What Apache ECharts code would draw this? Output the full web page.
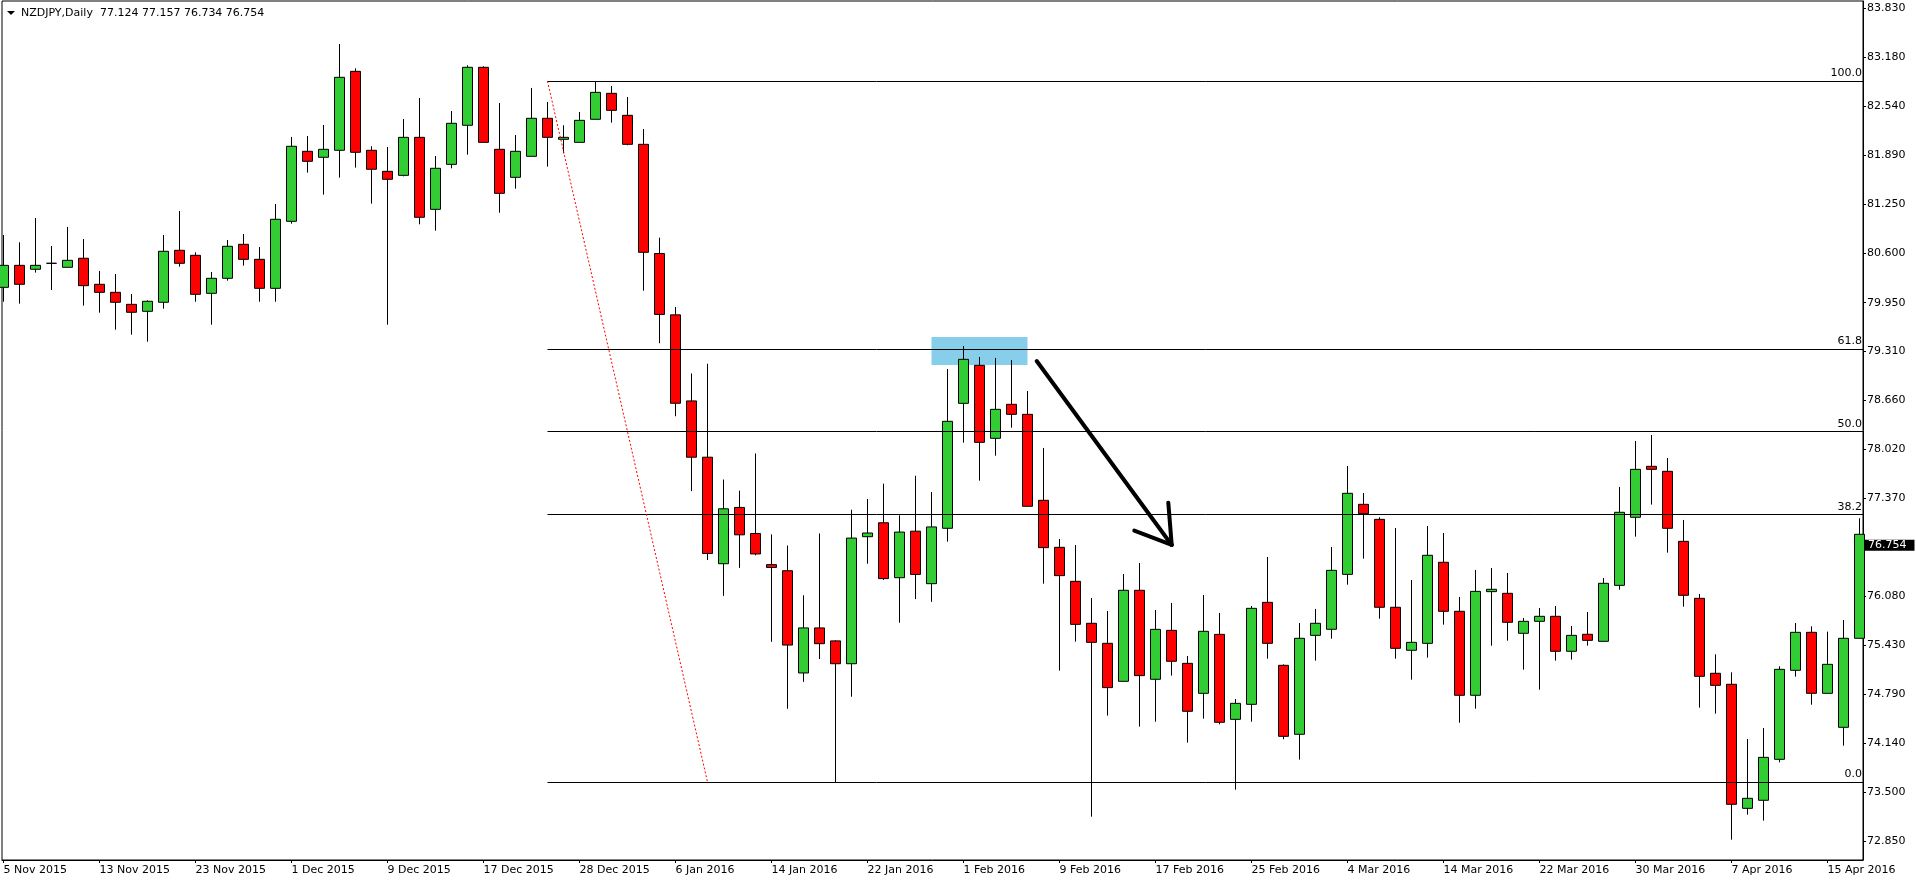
<!DOCTYPE html>
<html><head><meta charset="utf-8">
<script src="https://cdn.jsdelivr.net/npm/echarts@6/dist/echarts.min.js"></script>
<style>html,body{margin:0;padding:0;background:#fff}#c{width:1916px;height:884px}</style>
</head><body><div id="c"></div>
<script>
// ---------------- data ----------------
const titleText = 'NZDJPY,Daily  77.124 77.157 76.734 76.754';

const dates = [
 '5 Nov 2015','6 Nov 2015','9 Nov 2015','10 Nov 2015','11 Nov 2015','12 Nov 2015','13 Nov 2015','16 Nov 2015','17 Nov 2015','18 Nov 2015',
 '19 Nov 2015','20 Nov 2015','23 Nov 2015','24 Nov 2015','25 Nov 2015','26 Nov 2015','27 Nov 2015','30 Nov 2015',
 '1 Dec 2015','2 Dec 2015','3 Dec 2015','4 Dec 2015','7 Dec 2015','8 Dec 2015','9 Dec 2015','10 Dec 2015','11 Dec 2015','14 Dec 2015',
 '15 Dec 2015','16 Dec 2015','17 Dec 2015','18 Dec 2015','21 Dec 2015','22 Dec 2015','23 Dec 2015','24 Dec 2015','28 Dec 2015','29 Dec 2015',
 '30 Dec 2015','31 Dec 2015',
 '4 Jan 2016','5 Jan 2016','6 Jan 2016','7 Jan 2016','8 Jan 2016','11 Jan 2016','12 Jan 2016','13 Jan 2016','14 Jan 2016','15 Jan 2016',
 '18 Jan 2016','19 Jan 2016','20 Jan 2016','21 Jan 2016','22 Jan 2016','25 Jan 2016','26 Jan 2016','27 Jan 2016','28 Jan 2016','29 Jan 2016',
 '1 Feb 2016','2 Feb 2016','3 Feb 2016','4 Feb 2016','5 Feb 2016','8 Feb 2016','9 Feb 2016','10 Feb 2016','11 Feb 2016','12 Feb 2016',
 '15 Feb 2016','16 Feb 2016','17 Feb 2016','18 Feb 2016','19 Feb 2016','22 Feb 2016','23 Feb 2016','24 Feb 2016','25 Feb 2016','26 Feb 2016',
 '29 Feb 2016',
 '1 Mar 2016','2 Mar 2016','3 Mar 2016','4 Mar 2016','7 Mar 2016','8 Mar 2016','9 Mar 2016','10 Mar 2016','11 Mar 2016','14 Mar 2016',
 '15 Mar 2016','16 Mar 2016','17 Mar 2016','18 Mar 2016','21 Mar 2016','22 Mar 2016','23 Mar 2016','24 Mar 2016','25 Mar 2016','28 Mar 2016',
 '29 Mar 2016','30 Mar 2016','31 Mar 2016',
 '1 Apr 2016','4 Apr 2016','5 Apr 2016','6 Apr 2016','7 Apr 2016','8 Apr 2016','11 Apr 2016','12 Apr 2016','13 Apr 2016','14 Apr 2016',
 '15 Apr 2016','18 Apr 2016','19 Apr 2016'
];

const xTickDates = ['5 Nov 2015','13 Nov 2015','23 Nov 2015','1 Dec 2015','9 Dec 2015','17 Dec 2015','28 Dec 2015','6 Jan 2016',
 '14 Jan 2016','22 Jan 2016','1 Feb 2016','9 Feb 2016','17 Feb 2016','25 Feb 2016','4 Mar 2016','14 Mar 2016','22 Mar 2016',
 '30 Mar 2016','7 Apr 2016','15 Apr 2016'];

const opens = [
 80.152,80.442,80.390,80.469,80.416,80.535,80.192,80.086,79.928,79.836,
 79.955,80.640,80.574,80.073,80.271,80.719,80.521,80.139,81.022,81.945,
 81.866,81.958,82.999,81.958,81.681,81.628,82.129,81.180,81.773,82.288,
 83.052,81.971,81.602,81.879,82.380,82.103,82.063,82.367,82.709,82.419,
 82.037,80.598,79.789,78.655,77.913,76.509,77.251,76.908,76.497,76.417,
 75.069,75.663,75.492,75.191,76.865,77.049,76.325,76.938,76.246,76.976,
 78.623,79.124,78.162,78.610,78.478,77.345,76.725,76.277,75.724,75.460,
 74.959,76.159,74.986,75.631,75.196,74.801,75.578,74.458,74.656,76.000,
 75.170,74.261,75.565,75.645,76.369,77.292,77.094,75.935,75.368,75.460,
 76.528,75.882,74.775,76.141,76.119,75.592,75.750,75.816,75.355,75.579,
 75.486,76.224,77.121,77.793,77.727,76.804,76.053,75.065,74.920,73.285,
 73.391,73.931,75.104,75.605,74.801,74.353,75.526
];
const highs = [
 80.842,80.745,81.066,80.697,80.948,80.789,80.368,80.328,80.064,79.981,
 80.842,81.158,80.614,80.354,80.776,80.855,80.684,81.251,82.134,82.147,
 82.292,83.359,83.039,82.011,82.002,82.371,82.648,81.883,82.476,83.078,
 83.065,82.582,82.160,82.780,82.595,82.288,82.463,82.867,82.806,82.661,
 82.239,80.807,79.893,79.017,79.145,77.619,77.472,77.962,76.896,76.749,
 76.093,76.908,75.500,77.221,77.362,77.564,77.147,77.668,77.453,79.076,
 79.379,79.234,79.221,79.194,78.786,78.035,76.835,76.756,76.057,75.886,
 76.374,76.519,75.899,75.992,75.293,76.097,75.860,74.726,75.952,76.598,
 75.183,75.728,75.913,76.730,77.797,77.441,77.121,76.980,76.295,77.006,
 76.914,76.071,76.427,76.453,76.387,75.794,75.926,75.952,75.688,75.873,
 76.321,77.521,78.127,78.206,77.903,77.086,76.110,75.315,75.078,74.199,
 74.344,75.157,75.728,75.684,75.614,75.767,77.108
];
const lows = [
 79.963,79.937,80.346,80.117,80.416,79.911,79.818,79.594,79.528,79.436,
 79.871,80.425,79.963,79.660,80.240,80.438,79.963,79.963,80.991,81.664,
 81.374,81.598,81.730,81.255,79.660,81.615,80.983,80.899,81.721,81.901,
 82.063,81.136,81.453,81.879,81.743,81.918,82.063,82.367,82.323,82.024,
 80.108,79.415,78.453,77.466,76.558,76.086,76.454,76.620,75.480,74.597,
 74.952,75.253,73.632,74.756,76.509,76.295,75.731,76.043,76.007,76.800,
 78.105,77.604,77.933,78.302,77.266,76.246,75.100,75.482,73.175,74.507,
 74.959,74.362,74.427,75.034,74.151,74.467,74.392,73.531,74.427,75.258,
 74.195,73.927,75.232,75.521,76.233,76.576,75.785,75.258,74.981,75.271,
 75.706,74.414,74.599,75.429,75.495,75.113,74.849,75.232,75.245,75.429,
 75.486,76.167,76.866,77.288,76.655,75.943,74.612,74.533,72.872,73.202,
 73.123,73.891,75.021,74.651,74.801,74.111,75.526
];
const closes = [
 80.442,80.192,80.442,80.469,80.508,80.174,80.086,79.955,79.823,79.968,
 80.627,80.469,80.060,80.271,80.693,80.521,80.139,81.049,82.011,81.813,
 81.971,82.920,81.932,81.708,81.576,82.129,81.075,81.721,82.314,83.052,
 82.063,81.391,81.945,82.380,82.129,82.129,82.353,82.722,82.485,82.037,
 80.614,79.795,78.624,77.913,76.644,77.233,76.890,76.638,76.460,75.437,
 75.663,75.455,75.191,76.847,76.914,76.313,76.926,76.368,76.994,78.386,
 79.203,78.109,78.544,78.478,77.266,76.721,76.352,75.710,75.473,74.876,
 76.159,75.034,75.644,75.223,74.564,75.618,74.419,74.669,75.921,75.460,
 74.234,75.526,75.724,76.422,77.437,77.169,75.935,75.394,75.473,76.620,
 75.882,74.775,76.145,76.172,75.737,75.750,75.816,75.355,75.565,75.499,
 76.251,77.187,77.753,77.753,76.976,76.093,75.025,74.906,73.338,73.417,
 73.957,75.117,75.605,74.801,75.183,75.526,76.897
];

const yTickLabels = ['83.830','83.180','82.540','81.890','81.250','80.600','79.950','79.310','78.660',
 '78.020','77.370','76.080','75.430','74.790','74.140','73.500','72.850'];

// Fibonacci retracement (anchors: bar index / price)
const fibLevels = [82.870, 79.341, 78.251, 77.161, 73.632];
const fibLabels = ['100.0', '61.8', '50.0', '38.2', '0.0'];
const fibAnchorStart = [34, 82.870];
const fibAnchorEnd = [44, 73.632];

// highlighted zone (bar index / price)
const zoneStart = [58, 79.498];
const zoneEnd = [64, 79.129];

// hand-drawn arrow (bar position / price)
const arrowTail = [64.575, 79.181];
const arrowTip = [73.0125, 76.756];
const arrowHeadLeft = [70.675, 76.945];
const arrowHeadRight = [72.8, 77.314];

const lastPrice = 76.754;

// ---------------- chart ----------------
const FONT = 'DejaVu Sans';
const X_MIN = -0.09375, X_MAX = 116.21875;

const candleData = dates.map((d, i) => [i, opens[i], closes[i], lows[i], highs[i]]);
const xTickIdx = xTickDates.map(d => dates.indexOf(d));
const yTickVals = yTickLabels.map(Number);

const fibLines = fibLevels.map((v, i) => [
  { coord: [fibAnchorStart[0], v],
    lineStyle: { color: '#000', width: 1, type: 'solid' },
    label: { show: true, position: 'insideEndTop', formatter: fibLabels[i], distance: [1, 2],
             color: '#000', fontFamily: FONT, fontSize: 11 } },
  { coord: [X_MAX, v] }
]);

const seg = (a, b, style) => [{ coord: a, lineStyle: style, label: { show: false } }, { coord: b }];
const arrowStyle = { color: '#000', width: 4, type: 'solid', cap: 'round' };

const chart = echarts.init(document.getElementById('c'), null, { renderer: 'canvas' });
chart.setOption({
  animation: false,
  backgroundColor: '#fff',
  title: {
    text: titleText, left: 21, top: 7, padding: 0,
    textStyle: { fontFamily: FONT, fontSize: 11, fontWeight: 'normal', color: '#000', lineHeight: 12 }
  },
  graphic: [{
    type: 'polygon', shape: { points: [[7, 11], [15, 11], [11, 15]] }, style: { fill: '#000' }
  }],
  grid: { left: 2, right: 53, top: 1, bottom: 24, show: true, borderColor: '#000', borderWidth: 1, backgroundColor: '#fff' },
  xAxis: {
    type: 'value', min: X_MIN, max: X_MAX, splitLine: { show: false },
    axisLine: { show: true, onZero: false, lineStyle: { color: '#000', width: 1 } },
    axisTick: { show: true, customValues: xTickIdx, length: 3, lineStyle: { color: '#000' } },
    axisLabel: { show: true, customValues: xTickIdx, formatter: v => dates[Math.round(v)] || '',
                 align: 'left', margin: 5, color: '#000', fontFamily: FONT, fontSize: 11 }
  },
  yAxis: {
    type: 'value', position: 'right', min: 72.604, max: 83.926, scale: true,
    splitLine: { show: false },
    axisLine: { show: true, onZero: false, lineStyle: { color: '#000', width: 1 } },
    axisTick: { show: true, customValues: yTickVals, length: 3, lineStyle: { color: '#000' } },
    axisLabel: { show: true, customValues: yTickVals, formatter: v => v.toFixed(3),
                 margin: 4, color: '#000', fontFamily: FONT, fontSize: 11 }
  },
  series: [
    {
      type: 'candlestick', name: 'NZDJPY', data: candleData, barWidth: 10,
      itemStyle: { color: '#32CD32', color0: '#FF0000', borderColor: '#000', borderColor0: '#000',
                   borderColorDoji: '#000', borderWidth: 1 },
      markArea: {
        silent: true, z: 1,
        itemStyle: { color: '#87CEEB', opacity: 1 },
        data: [[{ coord: zoneStart }, { coord: zoneEnd }]]
      }
    },
    {
      type: 'line', name: 'objects', data: [], clip: false, silent: true,
      markLine: {
        silent: true, symbol: ['none', 'none'], animation: false,
        label: { show: false },
        data: [
          ...fibLines,
          seg(fibAnchorStart, fibAnchorEnd, { color: '#ff0000', width: 1, type: [2, 2] }),
          seg(arrowTail, arrowTip, arrowStyle),
          seg(arrowHeadLeft, arrowTip, arrowStyle),
          seg(arrowHeadRight, arrowTip, arrowStyle)
        ]
      }
    },
    {
      type: 'line', name: 'price', data: [], clip: false, silent: true, z: 10,
      markLine: {
        silent: true, symbol: ['none', 'none'], animation: false,
        lineStyle: { color: 'rgba(0,0,0,0)', width: 1, type: 'solid' },
        label: { show: true, position: 'end', distance: 1, formatter: lastPrice.toFixed(3),
                 backgroundColor: '#000', color: '#fff', padding: [0, 8, 0, 4], lineHeight: 11,
                 fontFamily: FONT, fontSize: 11 },
        data: [[{ coord: [X_MAX - 1, lastPrice] }, { coord: [X_MAX, lastPrice] }]]
      }
    }
  ]
});
</script>
</body></html>
